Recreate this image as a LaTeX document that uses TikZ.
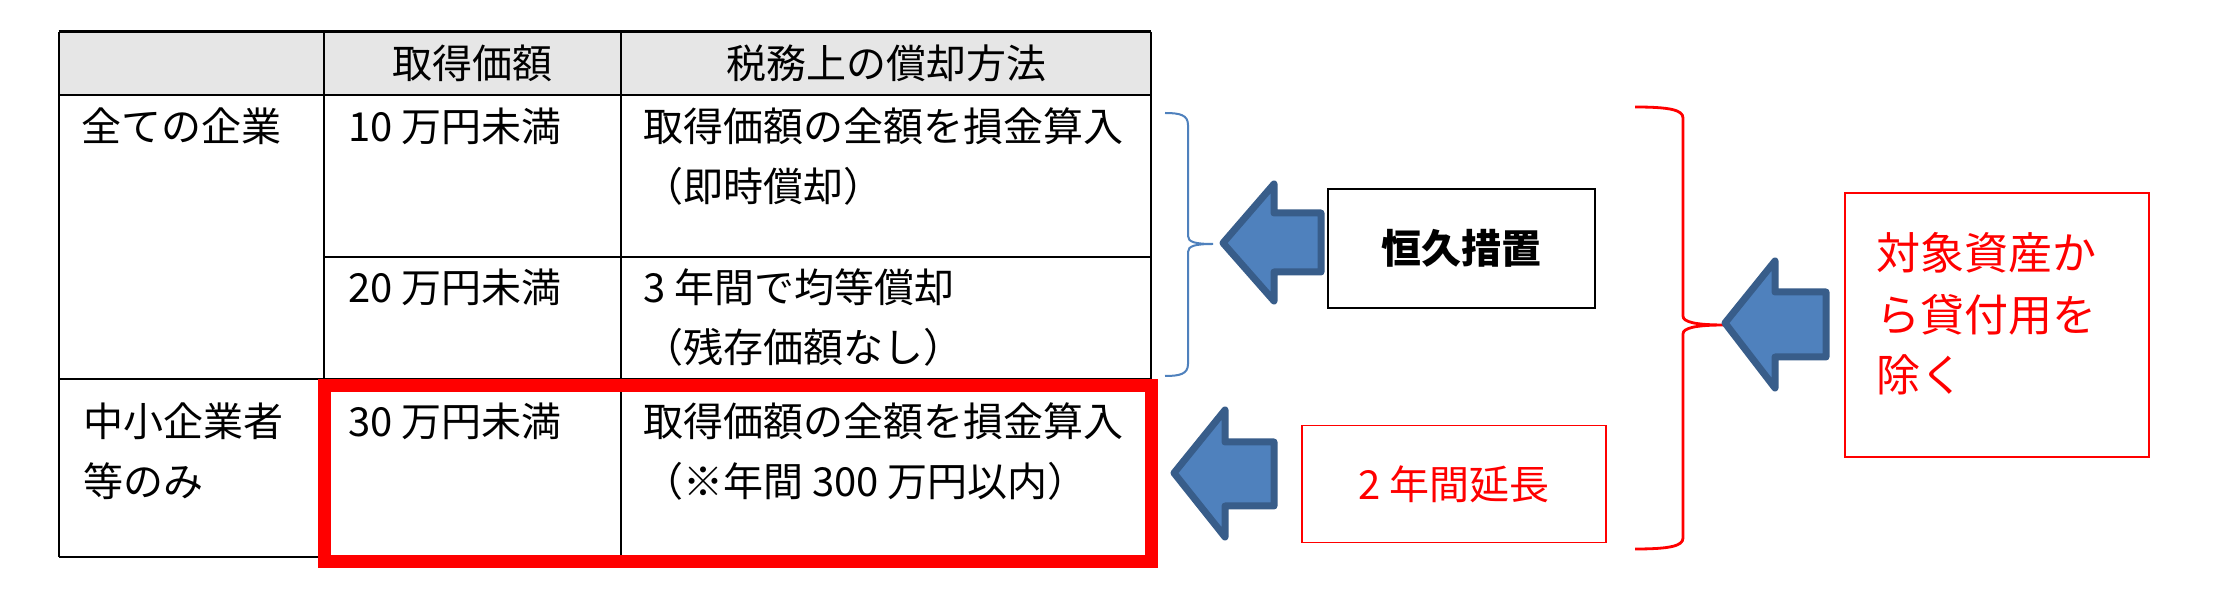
\documentclass[tikz,border=0pt]{standalone}
\usepackage{fontspec}
\setmainfont{Noto Sans CJK JP}
\definecolor{arrowfill}{HTML}{4F81BD}
\definecolor{arrowline}{HTML}{385D8A}
\definecolor{braceblue}{HTML}{4F81BD}
\definecolor{headgray}{RGB}{230,230,230}
\definecolor{pured}{HTML}{FF0000}
\newcommand\mytxt{\fontsize{20pt}{24pt}\selectfont}
\newcommand\mybig{\fontsize{22pt}{26pt}\selectfont}
\begin{document}
\begin{tikzpicture}[x=0.5pt,y=-0.5pt,
  hline/.style={line width=1.2pt,black},
  vline/.style={line width=0.8pt,black},
  celltxt/.style={anchor=base west,inner sep=0pt,font=\mytxt},
  headtxt/.style={anchor=base,inner sep=0pt,font=\mytxt},
  blockarrow/.style={fill=arrowfill,draw=arrowline,line width=3.5pt,line join=round},
  braceb/.style={draw=braceblue,line width=1pt},
  bracer/.style={draw=pured,line width=1.4pt},
  redframe/.style={draw=pured,line width=6.5pt},
  blackbox/.style={draw=black,line width=0.9pt,inner sep=0pt,font=\bfseries\mytxt},
  redbox/.style={draw=pured,line width=0.9pt,inner sep=0pt,text=pured,font=\mytxt},
  redtxt/.style={anchor=base west,inner sep=0pt,text=pured,font=\mybig}]
\useasboundingbox (0,0) rectangle (2224,592);
\fill[white] (0,0) rectangle (2224,592);
% table
\fill[headgray] (58.7,31.7) rectangle (1151,95);
\draw[hline] (58.7,31.7) -- (1151,31.7);
\draw[hline] (58.7,95) -- (1151,95);
\draw[hline] (324,257) -- (1151,257);
\draw[hline] (58.7,379) -- (1151,379);
\draw[hline] (58.7,557) -- (1151,557);
\draw[hline] (58.7,31.7) -- (58.7,557);
\draw[hline] (1151,31.7) -- (1151,557);
\draw[vline] (324,31.7) -- (324,557);
\draw[vline] (621,31.7) -- (621,557);
% header
\node[headtxt] (h1) at (472.5,79) {取得価額};
\node[headtxt] (h2) at (886,79) {税務上の償却方法};
% row 1
\node[celltxt] (r1a) at (81,142) {全ての企業};
\node[celltxt] (r1b) at (348,142) {10 万円未満};
\node[celltxt] (r1c) at (643,142) {取得価額の全額を損金算入};
\node[celltxt] (r1d) at (643,202) {（即時償却）};
% row 2
\node[celltxt] (r2b) at (348,303) {20 万円未満};
\node[celltxt] (r2c) at (643,303) {3 年間で均等償却};
\node[celltxt] (r2d) at (643,363) {（残存価額なし）};
% row 3
\node[celltxt] (r3a) at (83,437) {中小企業者};
\node[celltxt] (r3e) at (83,497) {等のみ};
\node[celltxt] (r3b) at (348,437) {30 万円未満};
\node[celltxt] (r3c) at (643,437) {取得価額の全額を損金算入};
\node[celltxt] (r3d) at (643,497) {（※年間 300 万円以内）};
% red frame
\draw[redframe] (324.5,385.5) rectangle (1151,562);
% blue brace
\draw[braceb] (1165,113) .. controls (1180,113) and (1188,115) .. (1188,125)
  -- (1188,236) .. controls (1188,242) and (1195,244) .. (1213,244)
  .. controls (1195,244) and (1188,246) .. (1188,252)
  -- (1188,364) .. controls (1188,374) and (1180,376) .. (1165,376);
% red brace
\draw[bracer] (1635,107) .. controls (1670,107) and (1683,110) .. (1683,118)
  -- (1683,316) .. controls (1683,322) and (1695,325) .. (1725,325)
  .. controls (1695,325) and (1683,328) .. (1683,334)
  -- (1683,538) .. controls (1683,546) and (1670,549) .. (1635,549);
% arrows
\draw[blockarrow] (1223,243) -- (1274,184) -- (1274,213) -- (1321,213) -- (1321,272) -- (1274,272) -- (1274,301) -- cycle;
\draw[blockarrow] (1174,473) -- (1225,410) -- (1225,442) -- (1274,442) -- (1274,506) -- (1225,506) -- (1225,537) -- cycle;
\draw[blockarrow] (1725,323) -- (1775,261) -- (1775,292) -- (1826,292) -- (1826,357) -- (1775,357) -- (1775,388) -- cycle;
% boxes
\node[blackbox,minimum width=133.5pt,minimum height=59.5pt] (b1) at (1461.5,248.5) {恒久措置};
\node[redbox,minimum width=152pt,minimum height=58.5pt] (b2) at (1454,484) {2 年間延長};
\node[draw=pured,line width=0.9pt,inner sep=0pt,minimum width=152pt,minimum height=132pt] (b3) at (1997,325) {};
\node[redtxt] (t3a) at (1876,269.5) {対象資産か};
\node[redtxt] (t3b) at (1876,331.5) {ら貸付用を};
\node[redtxt] (t3c) at (1876,391.5) {除く};
\end{tikzpicture}
\end{document}
